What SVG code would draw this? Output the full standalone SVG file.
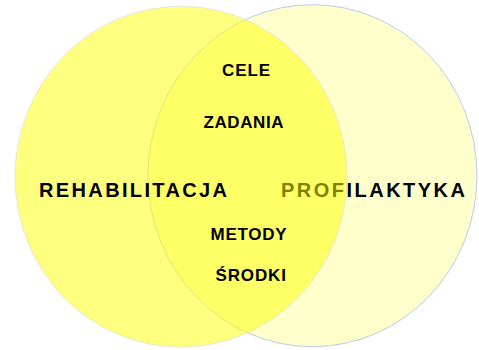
<svg xmlns="http://www.w3.org/2000/svg" width="479" height="350" viewBox="0 0 479 350">
<style>
  .lbl { font-family: "Liberation Sans", Arial, sans-serif; font-weight: bold; fill: #000; }
  .big { font-size: 20px; }
  .small { font-size: 17px; }
</style>
<rect x="0" y="0" width="479" height="350" fill="#ffffff"/>
<g id="profilaktyka">
  <ellipse cx="312.5" cy="175.7" rx="164.5" ry="171" fill="#FFFFCC" stroke="#9DB2EE" stroke-width="0.7"/>
  <text class="lbl big" x="281" y="196.5" textLength="184" lengthAdjust="spacing">PROFILAKTYKA</text>
</g>
<g id="rehabilitacja">
  <ellipse cx="181" cy="176.7" rx="166" ry="170.5" fill="#FFFF00" fill-opacity="0.5" stroke="#DADBE6" stroke-width="0.7"/>
  <text class="lbl big" x="39" y="196.5" textLength="188" lengthAdjust="spacing">REHABILITACJA</text>
</g>
<g id="cele"><text class="lbl small" x="222" y="76" textLength="48" lengthAdjust="spacing">CELE</text></g>
<g id="zadania"><text class="lbl small" x="203.5" y="127.5" textLength="80" lengthAdjust="spacing">ZADANIA</text></g>
<g id="metody"><text class="lbl small" x="210.5" y="240" textLength="76" lengthAdjust="spacing">METODY</text></g>
<g id="srodki"><text class="lbl small" x="215.5" y="280.7" textLength="70.5" lengthAdjust="spacing">ŚRODKI</text></g>
<g id="connectors"></g>
</svg>
